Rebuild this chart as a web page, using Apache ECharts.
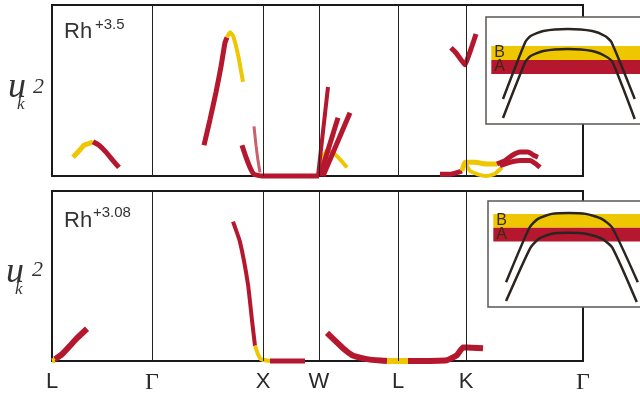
<!DOCTYPE html>
<html>
<head>
<meta charset="utf-8">
<script src="https://cdn.jsdelivr.net/npm/echarts@6/dist/echarts.min.js"></script>
<style>html,body{margin:0;padding:0;background:#fff}#chart{width:640px;height:394px}</style>
</head>
<body>
<div id="chart"></div>
<script>
// k-path positions (arbitrary distance units) and their labels
const kTicks = [0, 100, 211, 267, 346, 414, 531];
const kLabels = ["L", "Γ", "X", "W", "L", "K", "Γ"];
const dividers = [100, 211, 267, 346, 414];

// Rh+3.5 panel, [k, u_k^2]
const topLGYellow = [[21, 0.11], [26, 0.14], [32, 0.18], [37, 0.19], [41, 0.20]];
const topLGRed = [[41, 0.20], [47, 0.18], [54, 0.14], [61, 0.09], [67, 0.05]];
const topGXRed = [[152, 0.18], [158, 0.33], [164, 0.49], [169, 0.64], [173, 0.78], [175, 0.81]];
const topGXYellow = [[175, 0.81], [178, 0.84], [181, 0.82], [184, 0.76], [187, 0.68], [191, 0.55]];
const topXRed = [[190, 0.18], [194, 0.11], [198, 0.05], [202, 0.01], [210, 0], [267, 0]];
const topXFaint = [[202, 0.29], [204, 0.18], [206, 0.09], [208, 0.02]];
const topWRedA = [[266, 0], [276, 0.52]];
const topWRedB = [[268, 0], [286, 0.34]];
const topWRedC = [[271, 0], [298, 0.37]];
const topWYellow = [[268, 0.065], [271, 0.11], [275, 0.15], [280, 0.14], [286, 0.11], [295, 0.05]];
const topKV = [[399, 0.75], [404, 0.72], [409, 0.68], [413, 0.65], [417, 0.71], [420, 0.76], [424, 0.83]];
const topLKRed = [[388, 0.01], [398, 0.01], [405, 0.02], [410, 0.03]];
const topKYellowUp = [[410, 0.03], [413, 0.08], [423, 0.08], [435, 0.07], [445, 0.07]];
const topKYellowLow = [[413, 0.08], [418, 0.03], [426, 0.01], [434, 0], [442, 0.01], [450, 0.05]];
const topKRedUp = [[445, 0.07], [453, 0.09], [460, 0.12], [468, 0.14], [476, 0.14], [482, 0.12], [486, 0.11]];
const topKRedLow = [[448, 0.06], [458, 0.08], [468, 0.09], [478, 0.09], [484, 0.07], [488, 0.05]];

// Rh+3.08 panel
const botLYellow = [[0, 0], [3, 0.005]];
const botLRed = [[3, 0.01], [10, 0.04], [18, 0.09], [26, 0.14], [35, 0.19]];
const botGXRed = [[181, 0.82], [188, 0.70], [196, 0.45], [200, 0.24], [203, 0.09]];
const botXYellow = [[203, 0.09], [206, 0.04], [209, 0.01], [218, 0]];
const botXWRed = [[218, 0], [253, 0]];
const botWLRed = [[275, 0.165], [283, 0.12], [291, 0.075], [300, 0.035], [308, 0.02], [318, 0.008], [335, 0]];
const botLYellowMid = [[335, 0], [356, 0]];
const botLKRed = [[356, 0], [395, 0.005], [405, 0.035], [411, 0.08], [415, 0.08], [431, 0.075]];

// insets: two bands and two arches
const bandB = [64, 78];
const bandA = [50, 64];
const topArchOuter = [[16, 25], [37, 82], [42, 88], [54, 93], [77, 95], [100, 93], [112, 88], [118, 82], [140, 25]];
const topArchInner = [[16, 6], [37, 62], [42, 68], [54, 73], [77, 75], [100, 73], [112, 68], [119, 62], [140, 5]];
const botBandB = [80, 94];
const botBandA = [66, 80];
const botArchOuter = [[17, 25], [39, 80], [47, 89], [60, 94], [76, 95], [92, 94], [107, 89], [117, 80], [141, 25]];
const botArchInner = [[17, 6], [40, 60], [48, 69], [60, 74], [76, 75], [92, 74], [107, 69], [117, 60], [140, 5]];

const RED = "#b5172e";
const YELLOW = "#eec700";

const chart = echarts.init(document.getElementById("chart"));

function curve(data, color, width, gi, extra) {
    return Object.assign({
        type: "line",
        xAxisIndex: gi,
        yAxisIndex: gi,
        data: data,
        symbol: "none",
        smooth: 0.15,
        clip: false,
        silent: true,
        z: 3,
        lineStyle: {color: color, width: width}
    }, extra || {});
}

function dividerLines() {
    return {
        silent: true,
        symbol: "none",
        label: {show: false},
        lineStyle: {color: "#222", width: 1, type: "solid"},
        data: dividers.map(d => ({xAxis: d}))
    };
}

function bands(b, a) {
    const lbl = t => ({show: true, position: "insideLeft", distance: 3, formatter: t, color: "#3b2a14", fontSize: 16, fontFamily: "Liberation Sans"});
    return {
        silent: true,
        data: [
            [{xAxis: 5, yAxis: b[0], itemStyle: {color: YELLOW}, label: lbl("B")}, {xAxis: 149, yAxis: b[1]}],
            [{xAxis: 5, yAxis: a[0], itemStyle: {color: RED}, label: lbl("A")}, {xAxis: 149, yAxis: a[1]}]
        ]
    };
}

const hidden = {show: false};
function mainX(gi, showLabels) {
    return {
        type: "value", gridIndex: gi, min: 0, max: 531, position: "bottom",
        axisLine: hidden, axisTick: hidden, splitLine: hidden,
        axisLabel: showLabels ? {
            customValues: kTicks,
            margin: 10,
            formatter: v => {
                const t = kLabels[kTicks.indexOf(v)];
                return t === "Γ" ? "{g|Γ}" : "{t|" + t + "}";
            },
            rich: {
                t: {fontFamily: "Liberation Sans", fontSize: 22, color: "#2a2a2a"},
                g: {fontFamily: "Liberation Serif", fontSize: 24, color: "#2a2a2a"}
            }
        } : hidden
    };
}
function mainY(gi) {
    return {type: "value", gridIndex: gi, min: 0, max: 1, axisLine: hidden, axisTick: hidden, splitLine: hidden, axisLabel: hidden};
}
const insetX = gi => ({type: "value", gridIndex: gi, min: 0, max: 160, show: false});
const insetY = gi => ({type: "value", gridIndex: gi, min: 0, max: 107, show: false});

const gridBase = {show: true, containLabel: false, outerBoundsMode: "none", backgroundColor: "#fff"};

chart.setOption({
    animation: false,
    backgroundColor: "#fff",
    grid: [
        Object.assign({left: 52, top: 5, width: 531, height: 171, borderColor: "#1a1a1a", borderWidth: 2}, gridBase),
        Object.assign({left: 52, top: 191, width: 531, height: 170, borderColor: "#1a1a1a", borderWidth: 2}, gridBase),
        Object.assign({left: 486, top: 17, width: 170, height: 107, borderColor: "#5a5552", borderWidth: 1.5}, gridBase),
        Object.assign({left: 488, top: 201, width: 170, height: 106, borderColor: "#5a5552", borderWidth: 1.5}, gridBase)
    ],
    xAxis: [mainX(0, false), mainX(1, true), insetX(2), insetX(3)],
    yAxis: [mainY(0), mainY(1), insetY(2), insetY(3)],
    graphic: [
        {type: "text", left: 8, top: 70, z: 10, style: {text: "u", font: "italic 36px 'Liberation Serif'", fill: "#333"}},
        {type: "text", left: 17, top: 96, z: 10, style: {text: "k", font: "italic 17px 'Liberation Serif'", fill: "#333"}},
        {type: "text", left: 33, top: 76, z: 10, style: {text: "2", font: "italic 22px 'Liberation Serif'", fill: "#333"}},
        {type: "text", left: 6, top: 255, z: 10, style: {text: "u", font: "italic 36px 'Liberation Serif'", fill: "#333"}},
        {type: "text", left: 15, top: 281, z: 10, style: {text: "k", font: "italic 17px 'Liberation Serif'", fill: "#333"}},
        {type: "text", left: 32, top: 259, z: 10, style: {text: "2", font: "italic 22px 'Liberation Serif'", fill: "#333"}},
        {type: "text", left: 64, top: 21, z: 10, style: {text: "Rh", font: "22px 'Liberation Sans'", fill: "#333"}},
        {type: "text", left: 95, top: 17, z: 10, style: {text: "+3.5", font: "15px 'Liberation Sans'", fill: "#333"}},
        {type: "text", left: 64, top: 210, z: 10, style: {text: "Rh", font: "22px 'Liberation Sans'", fill: "#333"}},
        {type: "text", left: 93, top: 205, z: 10, style: {text: "+3.08", font: "15px 'Liberation Sans'", fill: "#333"}}
    ],
    series: [
        curve(topLGYellow, YELLOW, 5, 0, {markLine: dividerLines()}),
        curve(topLGRed, RED, 5, 0),
        curve(topGXRed, RED, 5, 0),
        curve(topGXYellow, YELLOW, 4, 0),
        curve(topXRed, RED, 5, 0),
        curve(topXFaint, "#c9606c", 3, 0),
        curve(topWRedA, RED, 4, 0),
        curve(topWRedB, RED, 5, 0),
        curve(topWRedC, RED, 5, 0),
        curve(topWYellow, YELLOW, 4, 0, {z: 2}),
        curve(topKV, RED, 5, 0),
        curve(topLKRed, RED, 5, 0),
        curve(topKYellowUp, YELLOW, 5, 0),
        curve(topKYellowLow, YELLOW, 4, 0),
        curve(topKRedUp, RED, 5, 0),
        curve(topKRedLow, RED, 5, 0),

        curve(botLYellow, YELLOW, 5, 1, {markLine: dividerLines()}),
        curve(botLRed, RED, 6, 1),
        curve(botGXRed, RED, 4, 1),
        curve(botXYellow, YELLOW, 4, 1),
        curve(botXWRed, RED, 5, 1),
        curve(botWLRed, RED, 6, 1),
        curve(botLYellowMid, YELLOW, 6, 1),
        curve(botLKRed, RED, 6, 1),

        curve(topArchOuter, "#2b2522", 2.5, 2, {smooth: 0.2, z: 4, markArea: bands(bandB, bandA)}),
        curve(topArchInner, "#2b2522", 2.5, 2, {smooth: 0.2, z: 4}),
        curve(botArchOuter, "#2b2522", 2.5, 3, {smooth: 0.2, z: 4, markArea: bands(botBandB, botBandA)}),
        curve(botArchInner, "#2b2522", 2.5, 3, {smooth: 0.2, z: 4})
    ]
});
</script>
</body>
</html>
